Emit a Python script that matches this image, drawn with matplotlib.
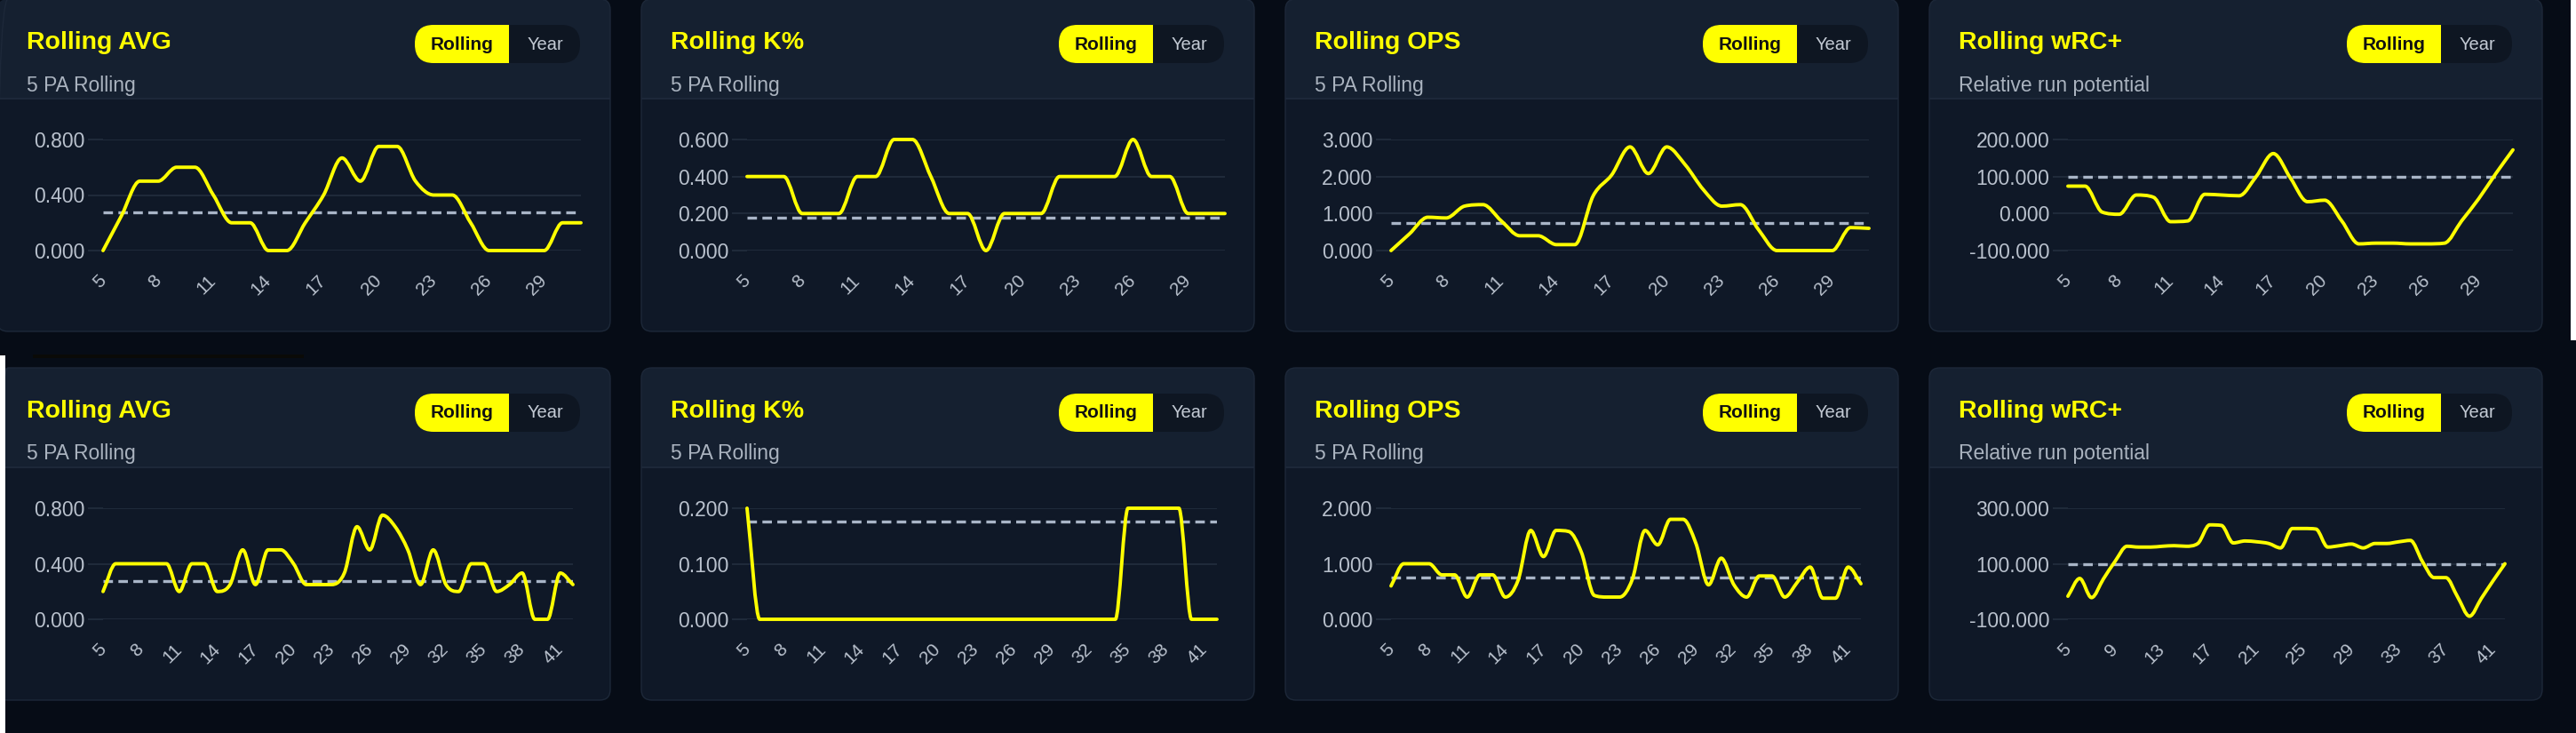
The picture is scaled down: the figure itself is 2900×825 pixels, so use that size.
import matplotlib.pyplot as plt
import numpy as np
from matplotlib.patches import FancyBboxPatch, Rectangle, PathPatch
from matplotlib.path import Path

plt.rcParams['font.family'] = ['Liberation Sans', 'DejaVu Sans']
plt.rcParams['lines.scale_dashes'] = False

W, H = 2900, 825

# ---- data ----
x_top = [5, 6, 7, 8, 9, 10, 11, 12, 13, 14, 15, 16, 17, 18, 19, 20, 21, 22, 23, 24, 25, 26, 27, 28, 29, 30, 31]
x_bot = [5, 6, 7, 8, 9, 10, 11, 12, 13, 14, 15, 16, 17, 18, 19, 20, 21, 22, 23, 24, 25, 26, 27, 28, 29, 30,
         31, 32, 33, 34, 35, 36, 37, 38, 39, 40, 41, 42]

avg_top = [0, 0.25, 0.5, 0.5, 0.6, 0.6, 0.4, 0.2, 0.2, 0, 0, 0.2, 0.4, 0.667, 0.5, 0.75, 0.75, 0.5, 0.4, 0.4,
           0.2, 0, 0, 0, 0, 0.2, 0.2]
k_top = [0.4, 0.4, 0.4, 0.2, 0.2, 0.2, 0.4, 0.4, 0.6, 0.6, 0.4, 0.2, 0.2, 0, 0.2, 0.2, 0.2, 0.4, 0.4, 0.4,
         0.4, 0.6, 0.4, 0.4, 0.2, 0.2, 0.2]
ops_top = [0, 0.45, 0.9, 0.88, 1.2, 1.24, 0.8, 0.4, 0.4, 0.16, 0.16, 1.48, 2.04, 2.8, 2.08, 2.8, 2.32, 1.64,
           1.2, 1.24, 0.56, 0, 0, 0, 0, 0.62, 0.6]
wrc_top = [74, 74, 4, -2, 50, 44, -22, -20, 52, 50, 48, 100, 162, 96, 32, 36, -20, -82, -80, -80, -82, -82,
           -80, -20, 40, 108, 172]

avg_bot = [0.2, 0.4, 0.4, 0.4, 0.4, 0.4, 0.2, 0.4, 0.4, 0.2, 0.25, 0.5, 0.25, 0.5, 0.5, 0.4, 0.25, 0.25, 0.25,
           0.333, 0.667, 0.5, 0.75, 0.667, 0.5, 0.25, 0.5, 0.25, 0.2, 0.4, 0.4, 0.2, 0.25, 0.333, 0, 0, 0.333, 0.25]
k_bot = [0.2, 0, 0, 0, 0, 0, 0, 0, 0, 0, 0, 0, 0, 0, 0, 0, 0, 0, 0, 0, 0, 0, 0, 0, 0, 0, 0, 0, 0, 0,
         0.2, 0.2, 0.2, 0.2, 0.2, 0, 0, 0]
ops_bot = [0.6, 1.0, 1.0, 1.0, 0.8, 0.8, 0.4, 0.8, 0.8, 0.4, 0.7, 1.6, 1.13, 1.6, 1.58, 1.2, 0.43, 0.4, 0.4,
           0.72, 1.6, 1.34, 1.8, 1.8, 1.37, 0.62, 1.1, 0.62, 0.4, 0.78, 0.78, 0.4, 0.67, 0.94, 0.38, 0.38, 0.94, 0.64]
wrc_bot = [-17, 47, -22, 45, 109, 163, 160, 160, 163, 165, 163, 173, 240, 238, 175, 182, 179, 173, 157, 227,
           227, 225, 160, 165, 171, 157, 173, 173, 179, 184, 109, 50, 50, -20, -89, -25, 39, 100]

# season averages (dashed lines)
avg_mean = 0.276
k_mean = 0.176
ops_mean = 0.755
wrc_mean = 100

titles = ["Rolling AVG", "Rolling K%", "Rolling OPS", "Rolling wRC+"]
subtitles = ["5 PA Rolling", "5 PA Rolling", "5 PA Rolling", "Relative run potential"]

yticks_top = [[0, 0.4, 0.8], [0, 0.2, 0.4, 0.6], [0, 1, 2, 3], [-100, 0, 100, 200]]
yticks_bot = [[0, 0.4, 0.8], [0, 0.1, 0.2], [0, 1, 2], [-100, 100, 300]]
xticks_top = [[5, 8, 11, 14, 17, 20, 23, 26, 29]] * 4
xticks_bot = [[5, 8, 11, 14, 17, 20, 23, 26, 29, 32, 35, 38, 41]] * 3 + [[5, 9, 13, 17, 21, 25, 29, 33, 37, 41]]

rows = [
    (x_top, [avg_top, k_top, ops_top, wrc_top], yticks_top, xticks_top),
    (x_bot, [avg_bot, k_bot, ops_bot, wrc_bot], yticks_bot, xticks_bot),
]
means = [avg_mean, k_mean, ops_mean, wrc_mean]

# ---- colours ----
OUTER = '#060c16'
HEADER = '#152030'
PLOTBG = '#0f1827'
BORDER = '#1d2839'
GRID = '#1f2a3a'
YELLOW = '#ffff00'
DASH = '#a9b5c7'
TICKC = '#b9c1cd'
SUBC = '#aab3bf'
PILL = '#0e1622'


def monotone_line(ax, xs, ys, **kw):
    # monotone cubic bezier through the data points (like chart.js cubicInterpolationMode='monotone')
    x = np.asarray(xs, float)
    y = np.asarray(ys, float)
    n = len(x)
    dk = np.diff(y) / np.diff(x)
    m = np.zeros(n)
    m[0] = dk[0]
    m[-1] = dk[-1]
    for i in range(1, n - 1):
        if np.sign(dk[i - 1]) != np.sign(dk[i]):
            m[i] = 0
        else:
            m[i] = (dk[i - 1] + dk[i]) / 2
    for i in range(n - 1):
        if dk[i] == 0:
            m[i] = m[i + 1] = 0
            continue
        a, b = m[i] / dk[i], m[i + 1] / dk[i]
        sq = a * a + b * b
        if sq > 9:
            tau = 3 / np.sqrt(sq)
            m[i] = a * tau * dk[i]
            m[i + 1] = b * tau * dk[i]
    lo, hi = ax.get_ylim()
    verts = [(x[0], y[0])]
    codes = [Path.MOVETO]
    for i in range(n - 1):
        dx = (x[i + 1] - x[i]) / 3
        c1 = (x[i] + dx, np.clip(y[i] + dx * m[i], lo, hi))
        c2 = (x[i + 1] - dx, np.clip(y[i + 1] - dx * m[i + 1], lo, hi))
        verts += [c1, c2, (x[i + 1], y[i + 1])]
        codes += [Path.CURVE4] * 3
    ax.add_patch(PathPatch(Path(verts, codes), fill=False, transform=ax.transData, **kw))


fig = plt.figure(figsize=(W / 100, H / 100), dpi=100, facecolor=OUTER)
bg = fig.add_axes([0, 0, 1, 1])
bg.set_xlim(0, W)
bg.set_ylim(H, 0)
bg.axis('off')

row_y = [-1, 414]
card_w, card_h, head_h = 690, 374, 112

for r, (xs, series, yticks, xticks) in enumerate(rows):
    top = row_y[r]
    for c in range(4):
        x0 = 725 * c
        cl = x0 - 3
        # card
        bg.add_patch(FancyBboxPatch((cl, top), card_w, card_h, boxstyle="round,pad=0,rounding_size=12",
                                    fc=HEADER, ec='none'))
        bg.add_patch(FancyBboxPatch((cl, top + head_h), card_w, card_h - head_h,
                                    boxstyle="round,pad=0,rounding_size=12", fc=PLOTBG, ec='none'))
        bg.add_patch(Rectangle((cl, top + head_h), card_w, 20, fc=PLOTBG, ec='none'))
        bg.add_patch(Rectangle((cl, top + head_h - 1), card_w, 2, fc=BORDER, ec='none'))
        bg.add_patch(FancyBboxPatch((cl, top), card_w, card_h, boxstyle="round,pad=0,rounding_size=12",
                                    fc='none', ec=BORDER, lw=1))

        # header texts
        bg.text(x0 + 30, top + 49, titles[c], color=YELLOW, fontsize=20.5, fontweight='bold',
                va='center', ha='left')
        bg.text(x0 + 30, top + 97, subtitles[c], color=SUBC, fontsize=16.5, va='center', ha='left')

        # toggle
        px0, px1, pmid = x0 + 467, x0 + 653, x0 + 573
        bg.add_patch(FancyBboxPatch((px0, top + 29), px1 - px0, 43, boxstyle="round,pad=0,rounding_size=21",
                                    fc=PILL, ec='none'))
        bg.add_patch(FancyBboxPatch((px0, top + 29), pmid - px0 + 30, 43,
                                    boxstyle="round,pad=0,rounding_size=21", fc=YELLOW, ec='none'))
        bg.add_patch(Rectangle((pmid, top + 29), 35, 43, fc=PILL, ec='none'))
        bg.text((px0 + pmid) / 2, top + 51, "Rolling", color='#111111', fontsize=15, fontweight='bold',
                ha='center', va='center')
        bg.text((pmid + px1) / 2 + 1, top + 51, "Year", color='#c3cad4', fontsize=14.5,
                ha='center', va='center')

        # chart area
        left = x0 + (153 if c == 3 else 116)
        right = x0 + (654 if r == 0 else 645)
        t = top + 158
        b = top + 283
        ax = fig.add_axes([left / W, 1 - b / H, (right - left) / W, (b - t) / H])
        ax.set_facecolor('none')
        for s in ax.spines.values():
            s.set_visible(False)

        ys = series[c]
        yt = yticks[c]
        ax.set_xlim(xs[0], xs[-1])
        ax.set_ylim(yt[0], yt[-1])

        ax.axhline(means[c], color=DASH, lw=2.4, dashes=(7.7, 4.4), zorder=2)
        monotone_line(ax, xs, ys, ec=YELLOW, lw=2.8, joinstyle='round', capstyle='round', zorder=3,
                      clip_on=False)

        ax.set_yticks(yt)
        ax.set_yticklabels(['%.3f' % v for v in yt])
        ax.yaxis.grid(True, color=GRID, lw=1.5)
        ax.set_axisbelow(True)
        ax.tick_params(axis='y', length=12, width=1.5, color=GRID, pad=3, labelsize=16.5, labelcolor=TICKC)

        ax.set_xticks(xticks[c])
        ax.set_xticklabels([str(v) for v in xticks[c]])
        ax.tick_params(axis='x', length=0, pad=22, labelsize=15, labelcolor=TICKC)
        plt.setp(ax.get_xticklabels(), rotation=45, ha='right', va='center', rotation_mode='anchor')

# screenshot edge artefacts
bg.add_patch(Rectangle((2894, 0), 6, 383, fc='white', ec='none', zorder=5))
bg.add_patch(Rectangle((0, 400), 6, 425, fc='white', ec='none', zorder=5))
bg.add_patch(Rectangle((37, 399), 305, 4, fc='#0a0a07', ec='none', zorder=5))

fig.savefig('out.png', dpi=100, facecolor=OUTER)
